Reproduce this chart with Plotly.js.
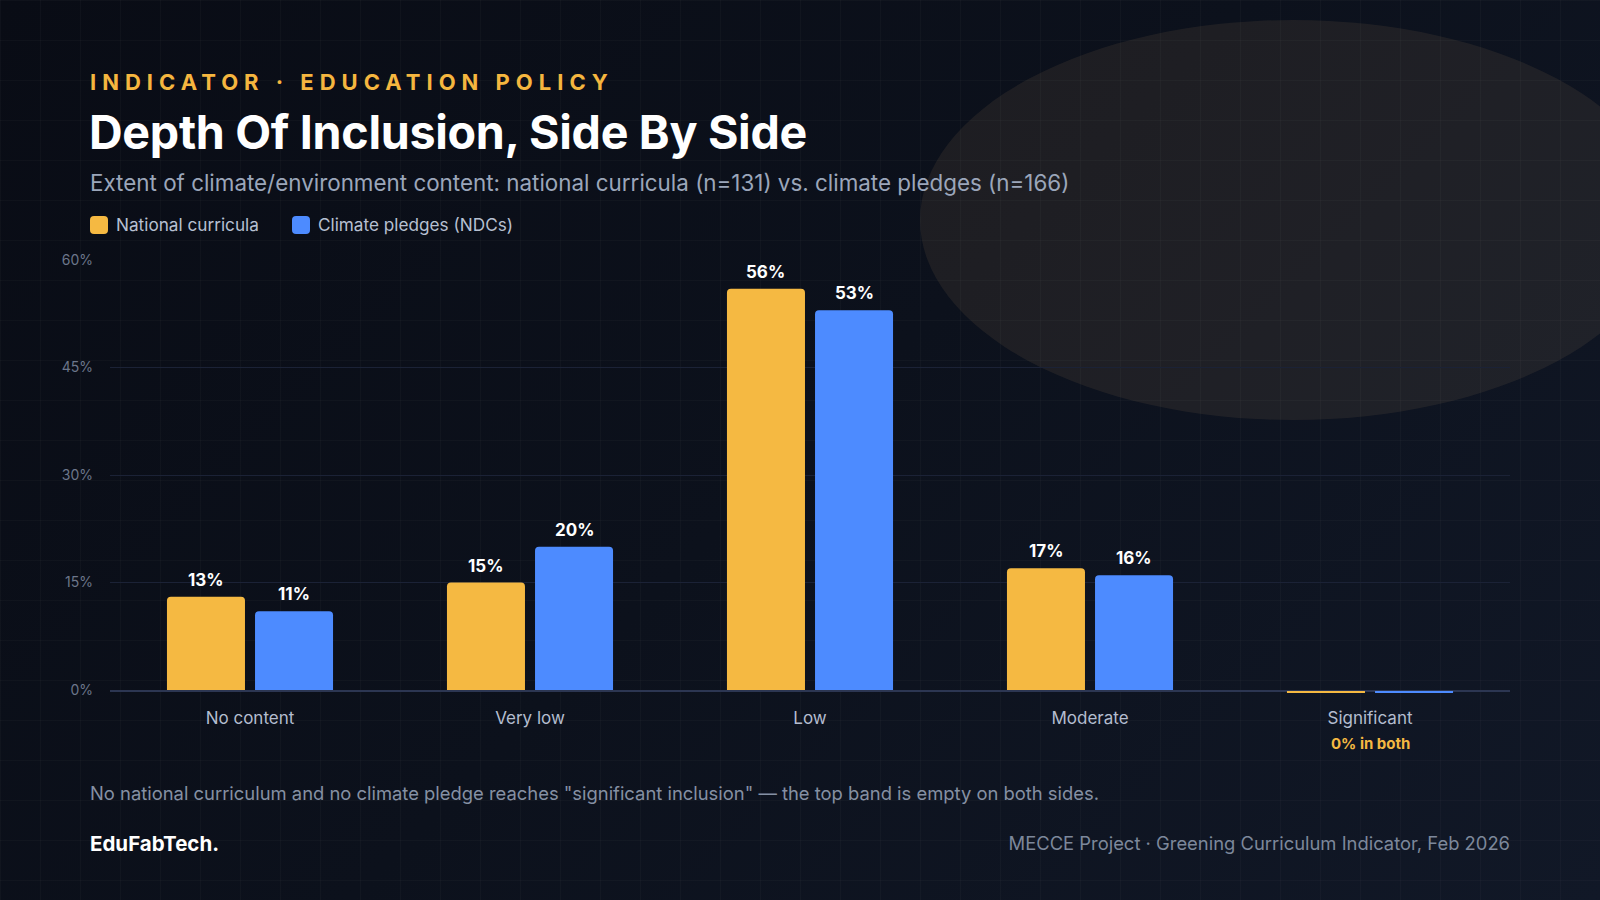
<!DOCTYPE html>
<html>
<head>
<meta charset="utf-8">
<script src="https://cdn.plot.ly/plotly-3.0.1.min.js"></script>
<style>
  html, body { margin:0; padding:0; width:1600px; height:900px; overflow:hidden; }
  body {
    position:relative;
    font-family: Inter, "Noto Sans", sans-serif;
    background: linear-gradient(135deg, #090c15 0%, #0c111c 50%, #111827 100%);
  }
  #grid {
    position:absolute; left:0; top:0; width:1600px; height:900px;
    background-image:
      linear-gradient(to right, rgba(255,255,255,0.025) 1px, transparent 1px),
      linear-gradient(to bottom, rgba(255,255,255,0.025) 1px, transparent 1px);
    background-size: 40px 40px;
  }
  #blob {
    position:absolute; left:920px; top:20px; width:746px; height:400px;
    border-radius:50%; background: rgba(255,205,130,0.075);
  }
  #chart { position:absolute; left:0; top:0; width:1600px; height:900px; }
  .txt { position:absolute; white-space:nowrap; }
  #eyebrow { left:90px; top:69px; font-size:22px; font-weight:700; color:#f5b63f; letter-spacing:6.0px; }
  #title { left:89px; top:104px; font-size:46.6px; font-weight:700; color:#ffffff; letter-spacing:-0.3px; }
  #subtitle { left:90px; top:169px; font-size:22.4px; color:#9ba6ba; }
  #note { left:90px; top:782px; font-size:18.4px; color:#8590a3; }
  #brand { left:90px; top:831px; font-size:20.5px; font-weight:700; color:#ffffff; }
  #source { right:90px; top:832px; font-size:18.4px; color:#7d889b; }
  #legend { position:absolute; left:90px; top:214px; display:flex; align-items:center; font-size:17.2px; color:#b7c0d2; }
  .sw { width:18px; height:18px; border-radius:4px; display:inline-block; margin-right:8px; }
  .li { display:flex; align-items:center; margin-right:33px; }
</style>
</head>
<body>
<div id="grid"></div>
<div id="blob"></div>
<div id="chart"></div>
<div class="txt" id="eyebrow">INDICATOR · EDUCATION POLICY</div>
<div class="txt" id="title">Depth Of Inclusion, Side By Side</div>
<div class="txt" id="subtitle">Extent of climate/environment content: national curricula (n=131) vs. climate pledges (n=166)</div>
<div id="legend"></div>
<div class="txt" id="note">No national curriculum and no climate pledge reaches "significant inclusion" — the top band is empty on both sides.</div>
<div class="txt" id="brand">EduFabTech.</div>
<div class="txt" id="source">MECCE Project · Greening Curriculum Indicator, Feb 2026</div>
<script>
// ---- data ----
const categories = ["No content", "Very low", "Low", "Moderate", "Significant"];
const curricula = [13, 15, 56, 17, 0];
const pledges = [11, 20, 53, 16, 0];
const seriesNames = ["National curricula", "Climate pledges (NDCs)"];
const yTicks = [0, 15, 30, 45, 60];
const emptyNote = "0% in both";

// ---- style ----
const colors = ["#F5B942", "#4D8BFF"];
const BARGAP = 0.371, GROUPGAP = 0.114;
const PLOT_W = 1600 - 110 - 90;

// legend (html)
const leg = document.getElementById('legend');
seriesNames.forEach((n, i) => {
  const d = document.createElement('div'); d.className = 'li';
  d.innerHTML = '<span class="sw" style="background:' + colors[i] + '"></span>' + n;
  leg.appendChild(d);
});

const seriesVals = [curricula, pledges];
const traces = seriesVals.map((vals, i) => ({
  type: 'bar',
  name: seriesNames[i],
  x: categories,
  y: vals,
  marker: { color: colors[i], line: { width: 0 } },
  hoverinfo: 'skip',
  showlegend: false
}));

const nCat = categories.length;
const slot = (1 - BARGAP) / 2;              // category units per bar slot
const barW = slot * (1 - GROUPGAP);
const catPx = PLOT_W / nCat;
const shapes = [];
const annotations = [];
seriesVals.forEach((vals, s) => {
  const off = (s === 0 ? -slot / 2 : slot / 2);
  vals.forEach((v, i) => {
    if (v === 0) {
      // empty category: thin strip just under the baseline (paper ref => not clipped)
      shapes.push({
        type: 'rect', xref: 'paper', yref: 'paper', layer: 'above',
        x0: (i + 0.5 + off - barW / 2) / nCat, x1: (i + 0.5 + off + barW / 2) / nCat,
        ysizemode: 'pixel', yanchor: 0, y0: -3, y1: -1,
        fillcolor: colors[s], line: { width: 0 }
      });
    } else {
      annotations.push({
        x: categories[i], xref: 'x', y: v, yref: 'y',
        xshift: off * catPx, yanchor: 'bottom', yshift: 5,
        showarrow: false, text: '<b>' + v + '%</b>',
        font: { family: 'Inter, sans-serif', size: 17, color: '#ffffff' }
      });
    }
  });
});

categories.forEach((c, i) => {
  if (curricula[i] === 0 && pledges[i] === 0) {
    annotations.push({
      x: c, xref: 'x', y: 0, yref: 'y', yshift: -53, showarrow: false,
      text: '<b>' + emptyNote + '</b>',
      font: { family: 'Inter, sans-serif', size: 15, color: '#F5B942' }
    });
  }
});

const layout = {
  width: 1600, height: 900,
  margin: { l: 110, r: 90, t: 260, b: 210, pad: 0 },
  paper_bgcolor: 'rgba(0,0,0,0)',
  plot_bgcolor: 'rgba(0,0,0,0)',
  barmode: 'group',
  bargap: BARGAP,
  bargroupgap: GROUPGAP,
  barcornerradius: 4,
  font: { family: 'Inter, sans-serif' },
  xaxis: {
    type: 'category',
    showgrid: false,
    showline: true, linecolor: '#2c3652', linewidth: 2,
    ticks: '', ticklabelstandoff: 12,
    tickfont: { size: 17, color: '#b4bdcf' },
    fixedrange: true
  },
  yaxis: {
    range: [0, 60],
    tickvals: yTicks,
    ticktext: yTicks.map(t => t + '%'),
    showgrid: true, gridcolor: '#1b2236', gridwidth: 1,
    zeroline: false, showline: false,
    ticks: '', ticklabelstandoff: 16,
    tickfont: { size: 14, color: '#6c768a' },
    fixedrange: true
  },
  shapes: shapes,
  annotations: annotations,
  showlegend: false
};

Plotly.newPlot('chart', traces, layout, { displayModeBar: false, staticPlot: true });
</script>
</body>
</html>
